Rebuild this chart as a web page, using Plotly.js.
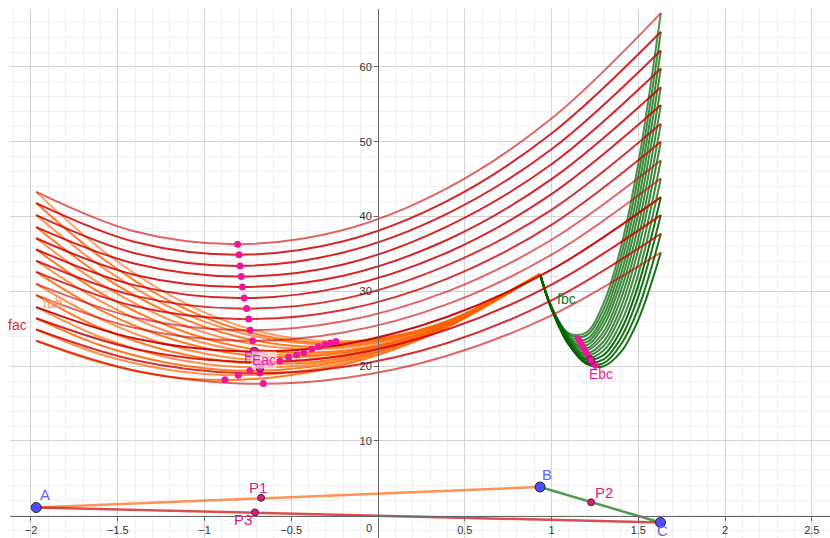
<!DOCTYPE html>
<html>
<head>
<meta charset="utf-8">
<script src="https://cdn.plot.ly/plotly-3.0.1.min.js"></script>
<style>
  html, body { margin: 0; padding: 0; background: #fff; }
  #plot { width: 830px; height: 538px; }
</style>
</head>
<body>
<div id="plot"></div>
<script>
// points of the triangle and the three movable points
const pointNames = ['A', 'B', 'C', 'P1', 'P2', 'P3'];
const pointX = [-1.97, 0.934, 1.628, -0.674, 1.228, -0.709];
const pointY = [1.1, 3.85, -0.9, 2.4, 1.8, 0.45];

// fac family (A -> C), sampled at facX
const facX = [-1.97, -1.4, -0.8, -0.2, 0.4, 1.0, 1.63];
const facY = [
  [43.3, 38.0, 36.3, 38.2, 43.8, 53.1, 67.2],
  [41.8, 36.6, 34.9, 36.7, 42.1, 51.1, 64.7],
  [40.2, 35.1, 33.4, 35.2, 40.4, 49.0, 62.2],
  [38.6, 33.7, 32.0, 33.6, 38.7, 47.0, 59.8],
  [37.1, 32.2, 30.6, 32.1, 36.9, 45.0, 57.3],
  [35.6, 30.8, 29.1, 30.6, 35.2, 43.0, 54.9],
  [34.1, 29.4, 27.7, 29.0, 33.5, 40.9, 52.4],
  [32.6, 28.0, 26.3, 27.5, 31.7, 38.9, 50.0],
  [31.0, 26.5, 24.8, 26.0, 30.0, 36.9, 47.5],
  [29.5, 25.1, 23.4, 24.5, 28.3, 34.9, 45.1],
  [27.9, 23.7, 22.0, 22.9, 26.6, 32.9, 42.6],
  [26.4, 22.3, 20.6, 21.4, 24.9, 30.9, 40.2],
  [24.9, 20.8, 19.1, 19.9, 23.1, 28.8, 37.7],
  [23.4, 19.4, 17.7, 18.4, 21.4, 26.8, 35.2]
];
const facMinX = [-0.809, -0.801, -0.795, -0.788, -0.782, -0.771, -0.757, -0.745, -0.736, -0.722, -0.713, -0.697, -0.680, -0.661];
const facMinY = [36.3, 34.9, 33.4, 32.0, 30.6, 29.1, 27.7, 26.3, 24.8, 23.4, 22.0, 20.5, 19.1, 17.7];

// fab family (A -> B)
const fabX = [-1.97, -1.6, -1.2, -0.8, -0.4, 0, 0.4, 0.934];
const fabY = [
  [43.3, 35.7, 29.5, 25.4, 23.5, 23.7, 26.0, 32.3],
  [41.8, 34.6, 28.7, 24.9, 23.2, 23.6, 26.0, 32.3],
  [40.2, 33.4, 27.9, 24.5, 23.0, 23.5, 26.0, 32.3],
  [38.6, 32.2, 27.1, 23.9, 22.6, 23.3, 25.9, 32.3],
  [37.1, 31.0, 26.2, 23.3, 22.3, 23.1, 25.8, 32.3],
  [35.6, 29.8, 25.3, 22.6, 21.8, 22.8, 25.7, 32.3],
  [34.1, 28.7, 24.5, 22.1, 21.5, 22.7, 25.6, 32.3],
  [32.6, 27.5, 23.7, 21.6, 21.3, 22.6, 25.6, 32.3],
  [31.0, 26.3, 22.8, 21.0, 20.9, 22.4, 25.5, 32.3],
  [29.5, 25.1, 22.0, 20.5, 20.5, 22.2, 25.5, 32.3],
  [27.9, 23.9, 21.1, 19.9, 20.2, 22.0, 25.4, 32.3],
  [26.4, 22.8, 20.4, 19.4, 19.9, 21.9, 25.4, 32.3],
  [24.9, 21.6, 19.5, 18.8, 19.5, 21.7, 25.3, 32.3],
  [23.4, 20.5, 18.6, 18.2, 19.2, 21.5, 25.2, 32.3]
];
const fabMinX = [-0.242, -0.273, -0.305, -0.344, -0.382, -0.427, -0.469, -0.515, -0.565, -0.622, -0.680, -0.738, -0.805, -0.882];
const fabMinY = [23.3, 23.1, 22.9, 22.6, 22.3, 21.8, 21.5, 21.2, 20.7, 20.3, 19.8, 19.4, 18.8, 18.2];

// fbc family (B -> C)
const fbcX = [0.934, 1.0, 1.1, 1.2, 1.3, 1.4, 1.5, 1.63];
const fbcY = [
  [32.3, 27.9, 24.4, 24.5, 28.4, 35.9, 47.1, 67.2],
  [32.3, 27.9, 24.2, 24.1, 27.6, 34.7, 45.4, 64.7],
  [32.3, 27.9, 24.0, 23.6, 26.8, 33.5, 43.7, 62.2],
  [32.3, 27.8, 23.8, 23.2, 26.1, 32.3, 42.0, 59.8],
  [32.3, 27.8, 23.6, 22.8, 25.4, 31.2, 40.4, 57.3],
  [32.3, 27.7, 23.5, 22.4, 24.6, 30.1, 38.7, 54.9],
  [32.3, 27.7, 23.3, 22.1, 24.0, 29.0, 37.1, 52.4],
  [32.3, 27.7, 23.2, 21.7, 23.3, 27.9, 35.6, 50.0],
  [32.3, 27.7, 23.1, 21.4, 22.7, 26.9, 33.9, 47.5],
  [32.3, 27.7, 23.0, 21.1, 22.1, 25.8, 32.3, 45.1],
  [32.3, 27.7, 22.9, 20.9, 21.5, 24.8, 30.8, 42.6],
  [32.3, 27.7, 22.9, 20.6, 20.9, 23.8, 29.3, 40.2],
  [32.3, 27.7, 22.9, 20.4, 20.4, 22.9, 27.7, 37.7],
  [32.3, 27.8, 22.9, 20.3, 20.0, 21.9, 26.2, 35.2]
];
const fbcMinX = [1.146, 1.153, 1.160, 1.167, 1.174, 1.182, 1.190, 1.198, 1.207, 1.217, 1.227, 1.238, 1.250, 1.264];
const fbcMinY = [24.0, 23.7, 23.4, 23.0, 22.7, 22.4, 22.1, 21.7, 21.4, 21.1, 20.8, 20.5, 20.1, 19.8];

// the selected curve (E points)
const selected = 10;

// axis ticks
const xTicks = [-2, -1.5, -1, -0.5, 0.5, 1, 1.5, 2, 2.5];
const xTickText = ['\u22122', '\u22121.5', '\u22121', '\u22120.5', '0.5', '1', '1.5', '2', '2.5'];
const yTicks = [10, 20, 30, 40, 50, 60];
const yTickText = ['10', '20', '30', '40', '50', '60'];

const pink = '#f0169a';
const font = 'Liberation Sans, Arial, sans-serif';

const redAlpha = [0.6, 0.85, 0.85, 0.85, 0.85, 0.85, 0.8, 0.8, 0.6, 0.6, 0.95, 0.85, 0.8, 0.6];
const orangeAlpha = [0.6, 0.85, 0.7, 0.85, 0.7, 0.85, 0.7, 0.85, 0.7, 0.85, 0.7, 0.85, 0.7, 0.85];
const greenAlpha = [0.7, 0.75, 0.75, 0.75, 0.75, 0.75, 0.75, 0.75, 0.75, 0.75, 0.95, 0.9, 0.9, 0.9];

const traces = [];

function seg(i, j, color) {
  traces.push({
    x: [pointX[i], pointX[j]], y: [pointY[i], pointY[j]],
    mode: 'lines', line: {color: color, width: 2.5}, hoverinfo: 'skip'
  });
}
seg(0, 1, 'rgba(255,110,30,0.75)');
seg(1, 2, 'rgba(40,130,40,0.8)');
seg(0, 2, 'rgba(204,20,20,0.75)');

fbcY.forEach(function (ys, i) {
  traces.push({
    x: fbcX, y: ys, mode: 'lines',
    line: {color: 'rgba(0,100,0,' + greenAlpha[i] + ')', width: 2, shape: 'spline'},
    hoverinfo: 'skip'
  });
});
fabY.forEach(function (ys, i) {
  traces.push({
    x: fabX, y: ys, mode: 'lines',
    line: {color: 'rgba(255,100,0,' + orangeAlpha[i] + ')', width: 2, shape: 'spline'},
    hoverinfo: 'skip'
  });
});
facY.forEach(function (ys, i) {
  traces.push({
    x: facX, y: ys, mode: 'lines',
    line: {color: 'rgba(204,0,0,' + redAlpha[i] + ')', width: 2, shape: 'spline'},
    hoverinfo: 'skip'
  });
});

// Ebc trace (thick), fab/fac minima dots
traces.push({
  x: fbcMinX, y: fbcMinY, mode: 'lines',
  line: {color: pink, width: 6}, hoverinfo: 'skip'
});
traces.push({
  x: facMinX.concat(fabMinX), y: facMinY.concat(fabMinY), mode: 'markers',
  marker: {color: pink, size: 7}, hoverinfo: 'skip'
});
traces.push({
  x: [facMinX[selected], fabMinX[selected], fbcMinX[selected]],
  y: [facMinY[selected], fabMinY[selected], fbcMinY[selected]],
  mode: 'markers',
  marker: {color: pink, size: 8, line: {color: '#333', width: 1}}, hoverinfo: 'skip'
});

// triangle points
traces.push({
  x: pointX.slice(0, 3), y: pointY.slice(0, 3), mode: 'markers',
  marker: {color: 'rgb(77,77,255)', size: 10, line: {color: '#222', width: 1}}, hoverinfo: 'skip'
});
traces.push({
  x: pointX.slice(3), y: pointY.slice(3), mode: 'markers',
  marker: {color: '#e0187f', size: 7, line: {color: '#333', width: 1}}, hoverinfo: 'skip'
});

const labelShift = [[9, 13], [7, 12], [2, -8], [-3, 10], [13, 10], [-12, -7]];
const annotations = pointNames.map(function (name, i) {
  return {
    x: pointX[i], y: pointY[i], text: name, showarrow: false,
    xshift: labelShift[i][0], yshift: labelShift[i][1],
    font: {family: font, size: 15, color: i < 3 ? '#6060ff' : '#e0187f'}
  };
});
annotations.push(
  {x: 0, y: 0, text: '0', showarrow: false, xshift: -9, yshift: -12,
   font: {family: font, size: 11, color: '#333'}},
  {x: -2.075, y: 25.5, text: 'fac', showarrow: false,
   font: {family: font, size: 14, color: 'rgba(204,0,0,0.85)'}},
  {x: -1.873, y: 28.4, text: 'fab', showarrow: false,
   font: {family: font, size: 14, color: '#ff9966'}},
  {x: 1.086, y: 29.0, text: 'fbc', showarrow: false,
   font: {family: font, size: 14, color: '#1f6f1f'}},
  {x: -0.70, y: 21.2, text: 'Eab', showarrow: false,
   font: {family: font, size: 14, color: pink}},
  {x: -0.655, y: 20.8, text: 'Eac', showarrow: false,
   bgcolor: 'rgba(255,255,255,0.6)', borderpad: 0,
   font: {family: font, size: 14, color: pink}},
  {x: 1.285, y: 19.0, text: 'Ebc', showarrow: false,
   font: {family: font, size: 14, color: pink}}
);

const axisCommon = {
  showgrid: true,
  gridcolor: 'rgb(212,212,212)',
  gridwidth: 1,
  zeroline: false,
  showline: true,
  linecolor: '#666',
  linewidth: 1,
  ticks: 'outside',
  ticklen: 4,
  tickcolor: '#666',
  tickfont: {family: font, size: 11, color: '#333'},
  tickmode: 'array',
  anchor: 'free',
  fixedrange: true
};

const layout = {
  width: 830,
  height: 538,
  margin: {l: 10, r: 0, t: 9, b: 0, pad: 0},
  paper_bgcolor: '#fff',
  plot_bgcolor: '#fff',
  showlegend: false,
  xaxis: Object.assign({}, axisCommon, {
    range: [-2.121, 2.605],
    tickvals: xTicks,
    ticktext: xTickText,
    position: 0.042,
    minor: {tickmode: 'linear', tick0: 0, dtick: 0.1, showgrid: true, gridcolor: 'rgb(240,240,240)', ticks: ''}
  }),
  yaxis: Object.assign({}, axisCommon, {
    range: [-2.97, 67.75],
    tickvals: yTicks,
    ticktext: yTickText,
    position: 0.4488,
    minor: {tickmode: 'linear', tick0: 0, dtick: 2, showgrid: true, gridcolor: 'rgb(240,240,240)', ticks: ''}
  }),
  annotations: annotations
};

Plotly.newPlot('plot', traces, layout, {displayModeBar: false, staticPlot: true});
</script>
</body>
</html>
